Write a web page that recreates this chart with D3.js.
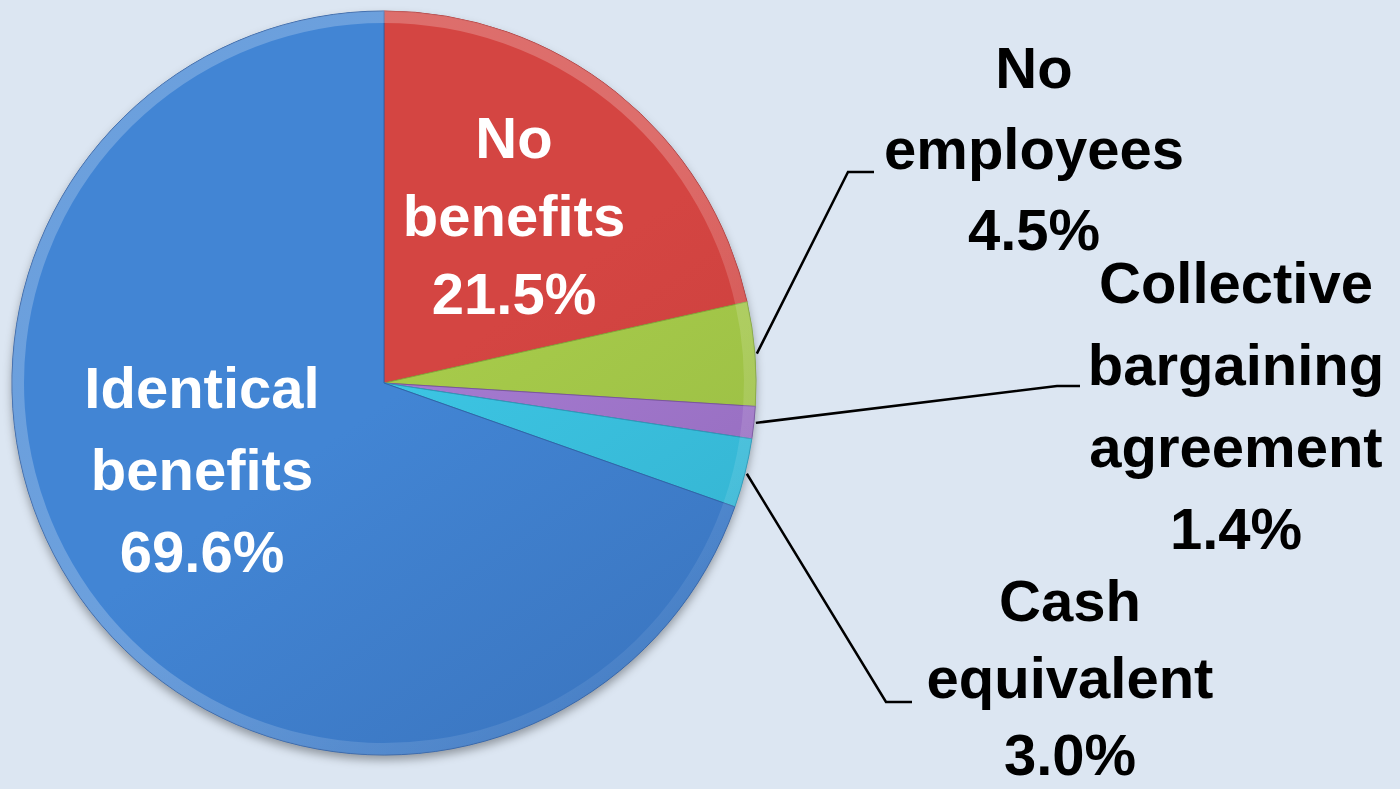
<!DOCTYPE html>
<html>
<head>
<meta charset="utf-8">
<script src="https://cdn.jsdelivr.net/npm/d3@7"></script>
<style>
  html, body { margin: 0; padding: 0; background: #dce6f2; }
  svg { display: block; }
</style>
</head>
<body>
<svg id="chart" width="1400" height="789"></svg>
<script>
// ---- data ----
const categories = ["No benefits", "No employees", "Collective bargaining agreement", "Cash equivalent", "Identical benefits"];
const values = [21.5, 4.5, 1.4, 3.0, 69.6];
const labelLines = [
  ["No", "benefits", "21.5%"],
  ["No", "employees", "4.5%"],
  ["Collective", "bargaining", "agreement", "1.4%"],
  ["Cash", "equivalent", "3.0%"],
  ["Identical", "benefits", "69.6%"]
];
const colorsTop = ["#d44542", "#a6ca4a", "#a47ad0", "#3cc4e2", "#4285d4"];
const colorsBottom = ["#b73532", "#86a83a", "#7b559f", "#2a9cb9", "#3263a8"];

// ---- layout ----
const W = 1400, H = 789;
const cx = 384, cy = 383, R = 372;
const fontSize = 58;
// label anchors (center x, first baseline, line step) and leader elbows
const labelLayout = [
  { x: 514, y: 158, step: 78, color: "#ffffff", inside: true },
  { x: 1034, y: 88, step: 81, color: "#000000", elbow: [848, 172], end: [874, 172] },
  { x: 1236, y: 303, step: 82, color: "#000000", elbow: [1057, 386], end: [1080, 386] },
  { x: 1070, y: 621, step: 77, color: "#000000", elbow: [886, 702], end: [912, 702] },
  { x: 202, y: 408, step: 82, color: "#ffffff", inside: true }
];

const svg = d3.select("#chart");
svg.append("rect").attr("width", W).attr("height", H).attr("fill", "#dce6f2");

const defs = svg.append("defs");
const shadow = defs.append("filter").attr("id", "shadow")
  .attr("x", "-10%").attr("y", "-10%").attr("width", "120%").attr("height", "125%");
shadow.append("feDropShadow").attr("dx", 0).attr("dy", 5).attr("stdDeviation", 5)
  .attr("flood-color", "#000").attr("flood-opacity", 0.35);

values.forEach((v, i) => {
  const g = defs.append("linearGradient").attr("id", "grad" + i)
    .attr("gradientUnits", "userSpaceOnUse")
    .attr("x1", cx - R).attr("y1", cy - R).attr("x2", cx + R * 0.4).attr("y2", cy + R);
  g.append("stop").attr("offset", "0%").attr("stop-color", colorsTop[i]);
  g.append("stop").attr("offset", "100%").attr("stop-color", colorsBottom[i]);
});
const ring = defs.append("linearGradient").attr("id", "ringGrad")
  .attr("gradientUnits", "userSpaceOnUse")
  .attr("x1", cx - R).attr("y1", cy - R).attr("x2", cx + R).attr("y2", cy + R);
ring.append("stop").attr("offset", "0%").attr("stop-color", "#ffffff").attr("stop-opacity", 0.22);
ring.append("stop").attr("offset", "50%").attr("stop-color", "#ffffff").attr("stop-opacity", 0.0);
ring.append("stop").attr("offset", "100%").attr("stop-color", "#000000").attr("stop-opacity", 0.22);

const pie = d3.pie().sort(null).value(d => d);
const arcs = pie(values);
const arc = d3.arc().innerRadius(0).outerRadius(R);
const bevel = d3.arc().innerRadius(R - 12).outerRadius(R);

const gPie = svg.append("g").attr("transform", `translate(${cx},${cy})`);
gPie.append("circle").attr("r", R).attr("fill", "#3a6fb0").attr("filter", "url(#shadow)");
gPie.selectAll("path.slice").data(arcs).enter().append("path")
  .attr("class", "slice")
  .attr("d", arc)
  .attr("fill", (d, i) => `url(#grad${i})`)
  .attr("stroke", (d, i) => colorsBottom[i])
  .attr("stroke-width", 1);
gPie.selectAll("path.bevel").data(arcs).enter().append("path")
  .attr("class", "bevel")
  .attr("d", bevel)
  .attr("fill", "url(#ringGrad)");

// leader lines
const lineG = svg.append("g");
arcs.forEach((d, i) => {
  const L = labelLayout[i];
  if (L.inside) return;
  const mid = (d.startAngle + d.endAngle) / 2;
  const sx = cx + Math.sin(mid) * (R + 2);
  const sy = cy - Math.cos(mid) * (R + 2);
  lineG.append("polyline")
    .attr("points", [[sx, sy], L.elbow, L.end].map(p => p.join(",")).join(" "))
    .attr("fill", "none").attr("stroke", "#000").attr("stroke-width", 2.5);
});

// labels
const textG = svg.append("g")
  .attr("font-family", "'Liberation Sans', Arial, sans-serif")
  .attr("font-weight", "bold")
  .attr("font-size", fontSize)
  .attr("text-anchor", "middle");
labelLines.forEach((lines, i) => {
  const L = labelLayout[i];
  const t = textG.append("text").attr("fill", L.color);
  lines.forEach((ln, j) => {
    t.append("tspan").attr("x", L.x).attr("y", L.y + j * L.step).text(ln);
  });
});
</script>
</body>
</html>
